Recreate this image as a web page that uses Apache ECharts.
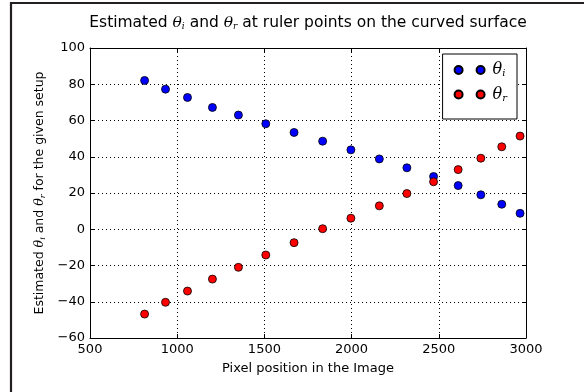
<!DOCTYPE html>
<html>
<head>
<meta charset="utf-8">
<script src="https://cdn.jsdelivr.net/npm/echarts@6/dist/echarts.min.js"></script>
<style>
  html, body { margin: 0; padding: 0; background: #fff; }
  #chart { width: 584px; height: 392px; }
</style>
</head>
<body>
<div id="chart"></div>
<script>
// Pixel positions of the ruler points
const pixelPos = [813, 933, 1059, 1202, 1351, 1508, 1670, 1834, 1996, 2159, 2317, 2470, 2611, 2741, 2861, 2966];
// Estimated angles (degrees)
const thetaI = [82.1, 77.3, 72.7, 67.2, 63.0, 58.2, 53.4, 48.6, 43.8, 38.8, 33.9, 29.1, 24.1, 19.0, 13.8, 8.8];
const thetaR = [-46.8, -40.3, -34.1, -27.5, -21.0, -14.2, -7.4, 0.3, 6.1, 12.9, 19.7, 26.2, 32.9, 39.2, 45.5, 51.4];
const xTicks = [500, 1000, 1500, 2000, 2500, 3000];
const yTicks = [-60, -40, -20, 0, 20, 40, 60, 80, 100];

const FONT = 'DejaVu Sans';
const minus = v => String(v).replace('-', '\u2212');

// italic theta with subscript, sized per use
function thetaRich(size, subSize, drop) {
  return {
    th: { fontFamily: 'DejaVu Serif', fontStyle: 'italic', fontSize: size, color: '#000' },
    sub: { fontFamily: 'DejaVu Serif', fontStyle: 'italic', fontSize: subSize, color: '#000', verticalAlign: 'bottom', padding: [drop, 0, 0, 0] }
  };
}

const chart = echarts.init(document.getElementById('chart'));

// two markers per legend entry, like matplotlib's numpoints=2
const twoDots = 'path://M0,4A4,4 0 1,1 8,4A4,4 0 1,1 0,4Z M22,4A4,4 0 1,1 30,4A4,4 0 1,1 22,4Z';

function pairs(ys) {
  return pixelPos.map((x, i) => [x, ys[i]]);
}

const axisCommon = {
  axisLine: { show: true, onZero: false, lineStyle: { color: '#000', width: 1 } },
  axisTick: { show: true, inside: true, length: 4, lineStyle: { color: '#000' } },
  splitLine: { show: false }
};

chart.setOption({
  animation: false,
  textStyle: { fontFamily: FONT },
  title: {
    text: 'Estimated {th|θ}{sub|i} and {th|θ}{sub|r} at ruler points on the curved surface',
    left: 303,
    textAlign: 'center',
    top: 10,
    textStyle: {
      fontFamily: FONT, fontSize: 15.5, fontWeight: 'normal', color: '#000',
      rich: thetaRich(15.5, 9, 7)
    }
  },
  graphic: [{
    type: 'rect',
    shape: { x: 11, y: 3, width: 620, height: 420 },
    style: { fill: null, stroke: '#231f20', lineWidth: 2.2 },
    silent: true
  }],
  legend: {
    orient: 'vertical',
    right: 67,
    top: 54,
    padding: [8, 10, 16, 11],
    itemGap: 8,
    itemWidth: 30,
    itemHeight: 8,
    backgroundColor: '#fff',
    borderColor: '#000',
    borderWidth: 1,
    borderRadius: 0,
    data: [
      { name: 'thetaI', icon: twoDots },
      { name: 'thetaR', icon: twoDots }
    ],
    formatter: n => n === 'thetaI' ? '{th|θ}{sub|i}' : '{th|θ}{sub|r}',
    textStyle: { padding: [0, 0, 0, 3], rich: thetaRich(16, 10, 7) }
  },
  grid: { left: 90, right: 58, top: 48, bottom: 54, containLabel: false },
  xAxis: [{
    ...axisCommon,
    type: 'value', min: 500, max: 3000, interval: 500,
    name: 'Pixel position in the Image',
    nameLocation: 'middle', nameGap: 24,
    nameTextStyle: { fontFamily: FONT, fontSize: 13, color: '#000' },
    axisLabel: { fontFamily: FONT, fontSize: 13, color: '#000', margin: 5, formatter: v => xTicks.includes(v) ? String(v) : '' },
    splitLine: { show: true, lineStyle: { color: '#000', type: [1, 3], width: 1 } }
  }, {
    ...axisCommon,
    type: 'value', position: 'top', min: 500, max: 3000, interval: 500,
    axisLabel: { show: false }
  }],
  yAxis: [{
    ...axisCommon,
    type: 'value', min: -60, max: 100, interval: 20,
    name: 'Estimated {th|θ}{sub|i} and {th|θ}{sub|r} for the given setup',
    nameLocation: 'middle', nameGap: 36,
    nameTextStyle: { fontFamily: FONT, fontSize: 12.5, color: '#000', rich: thetaRich(12.5, 8, 6) },
    axisLabel: { fontFamily: FONT, fontSize: 13, color: '#000', margin: 5, formatter: v => yTicks.includes(v) ? minus(v) : '' },
    splitLine: { show: true, lineStyle: { color: '#000', type: [1, 3], width: 1 } }
  }, {
    ...axisCommon,
    type: 'value', position: 'right', min: -60, max: 100, interval: 20,
    axisLabel: { show: false }
  }],
  series: [{
    name: 'thetaI',
    type: 'scatter',
    symbol: 'circle',
    symbolSize: 8,
    itemStyle: { color: '#0000ff', borderColor: '#000', borderWidth: 0.8, opacity: 1 },
    data: pairs(thetaI)
  }, {
    name: 'thetaR',
    type: 'scatter',
    symbol: 'circle',
    symbolSize: 8,
    itemStyle: { color: '#ff0000', borderColor: '#000', borderWidth: 0.8, opacity: 1 },
    data: pairs(thetaR)
  }]
});
</script>
</body>
</html>
